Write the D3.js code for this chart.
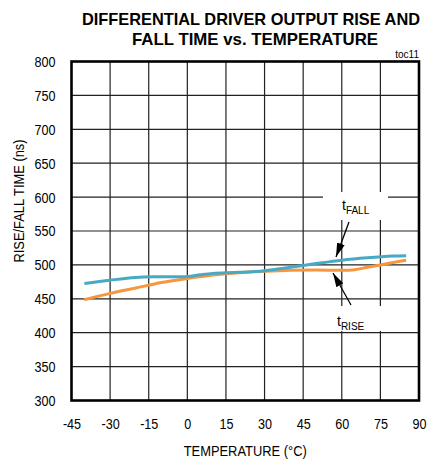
<!DOCTYPE html>
<html><head><meta charset="utf-8">
<script src="https://cdn.jsdelivr.net/npm/d3@7"></script>
<style>
html,body{margin:0;padding:0;background:#fff;}
svg text{font-family:"Liberation Sans Narrow","Arial Narrow","Liberation Sans",sans-serif;}
</style></head>
<body><svg id="c" width="429" height="464"></svg>
<script>
const titleLines = ["DIFFERENTIAL DRIVER OUTPUT RISE AND", "FALL TIME vs. TEMPERATURE"];
const xTicks = [-45, -30, -15, 0, 15, 30, 45, 60, 75, 90];
const yTicks = [300, 350, 400, 450, 500, 550, 600, 650, 700, 750, 800];
const fallTemp = [-40, -30, -20, -10, 0, 5, 10, 20, 30, 40, 50, 60, 70, 80, 85];
const fallTime = [472.5, 477.5, 481.5, 482.5, 483, 485.5, 487.5, 489, 491.5, 496.5, 502, 507, 510.5, 513, 513.5];
const riseTemp = [-40, -30, -20, -10, 0, 10, 20, 30, 40, 50, 60, 65, 70, 75, 80, 85];
const riseTime = [448.5, 458, 466, 474, 480, 485, 488.5, 490.5, 492, 492.5, 492, 493, 496.5, 500, 503.5, 507];

const svg = d3.select("#c");
const L = 71.5, R = 419, T = 61.5, B = 400.5;
const x = d3.scaleLinear().domain([-45, 90]).range([L, R]);
const y = d3.scaleLinear().domain([300, 800]).range([B, T]);

function condense(sel, f) {
  sel.each(function () {
    const w = this.getComputedTextLength();
    d3.select(this).attr("textLength", w * f).attr("lengthAdjust", "spacingAndGlyphs");
  });
}

// title
const titleWidths = [338, 246];
svg.append("g").selectAll("text").data(titleLines).join("text")
  .attr("x", (d, i) => i === 0 ? 251 : 255).attr("y", (d, i) => 25 + i * 20)
  .attr("text-anchor", "middle").attr("font-weight", "bold").attr("font-size", 16.5)
  .attr("fill", "#000").text(d => d)
  .attr("textLength", (d, i) => titleWidths[i]).attr("lengthAdjust", "spacingAndGlyphs");
svg.append("text").attr("x", 419).attr("y", 58).attr("text-anchor", "end")
  .attr("font-size", 10).text("toc11");

// grid
const grid = svg.append("g").attr("stroke", "#222").attr("stroke-width", 1.2);
grid.selectAll("line.v").data(xTicks.slice(1, -1)).join("line")
  .attr("x1", d => x(d)).attr("x2", d => x(d)).attr("y1", T).attr("y2", B);
grid.selectAll("line.h").data(yTicks.slice(1, -1)).join("line")
  .attr("x1", L).attr("x2", R).attr("y1", d => y(d)).attr("y2", d => y(d));

// axes labels via d3 axes
const xAxis = d3.axisBottom(x).tickValues(xTicks).tickSize(0).tickPadding(0).tickFormat(d => String(d));
const gx = svg.append("g").attr("transform", `translate(0,${B})`).call(xAxis);
gx.select(".domain").remove();
gx.selectAll("text").attr("font-size", 14).attr("font-family", null).attr("dy", null).attr("y", 28).attr("fill", "#000");
condense(gx.selectAll("text"), 0.9);
const yAxis = d3.axisLeft(y).tickValues(yTicks).tickSize(0).tickPadding(0).tickFormat(d => String(d));
const gy = svg.append("g").attr("transform", `translate(${L - 16},0)`).call(yAxis);
gy.select(".domain").remove();
gy.selectAll("text").attr("font-size", 14).attr("font-family", null).attr("dy", "0.35em").attr("fill", "#000");
condense(gy.selectAll("text"), 0.9);

const xt = svg.append("text").attr("x", (L + R) / 2).attr("y", 456).attr("text-anchor", "middle")
  .attr("font-size", 14).text("TEMPERATURE (°C)");
condense(xt, 0.92);
const yt = svg.append("text").attr("transform", "translate(24,201) rotate(-90)").attr("text-anchor", "middle")
  .attr("font-size", 14).text("RISE/FALL TIME (ns)");
condense(yt, 0.92);

// label boxes (white, hide grid)
svg.append("rect").attr("x", 323).attr("y", 192).attr("width", 65).attr("height", 28).attr("fill", "#fff");
svg.append("rect").attr("x", 318).attr("y", 306).attr("width", 72).attr("height", 25).attr("fill", "#fff");

// curves
const line = d3.line().curve(d3.curveCatmullRom.alpha(0.5)).x(d => x(d[0])).y(d => y(d[1]));
svg.append("path").datum(riseTemp.map((t, i) => [t, riseTime[i]]))
  .attr("d", line).attr("fill", "none").attr("stroke", "#F7963F").attr("stroke-width", 3);
svg.append("path").datum(fallTemp.map((t, i) => [t, fallTime[i]]))
  .attr("d", line).attr("fill", "none").attr("stroke", "#48A9C5").attr("stroke-width", 3);

// frame
svg.append("rect").attr("x", L).attr("y", T).attr("width", R - L).attr("height", B - T)
  .attr("fill", "none").attr("stroke", "#000").attr("stroke-width", 2.6);

// annotations
svg.append("defs").append("marker").attr("id", "ah").attr("viewBox", "0 0 14 8")
  .attr("refX", 14).attr("refY", 4).attr("markerWidth", 14).attr("markerHeight", 8)
  .attr("markerUnits", "userSpaceOnUse").attr("orient", "auto")
  .append("path").attr("d", "M0,0 L14,4 L0,8 Z").attr("fill", "#000");
svg.append("line").attr("x1", 349).attr("y1", 222).attr("x2", 336).attr("y2", 257)
  .attr("stroke", "#000").attr("stroke-width", 1.3).attr("marker-end", "url(#ah)");
svg.append("line").attr("x1", 351).attr("y1", 305).attr("x2", 333).attr("y2", 273)
  .attr("stroke", "#000").attr("stroke-width", 1.3).attr("marker-end", "url(#ah)");

function sublabel(xp, yp, sub) {
  const t = svg.append("text").attr("x", xp).attr("y", yp).attr("font-size", 14);
  t.append("tspan").text("t");
  t.append("tspan").attr("font-size", 10).attr("dy", 4).text(sub);
}
sublabel(342, 210, "FALL");
sublabel(337, 326, "RISE");
</script></body></html>
